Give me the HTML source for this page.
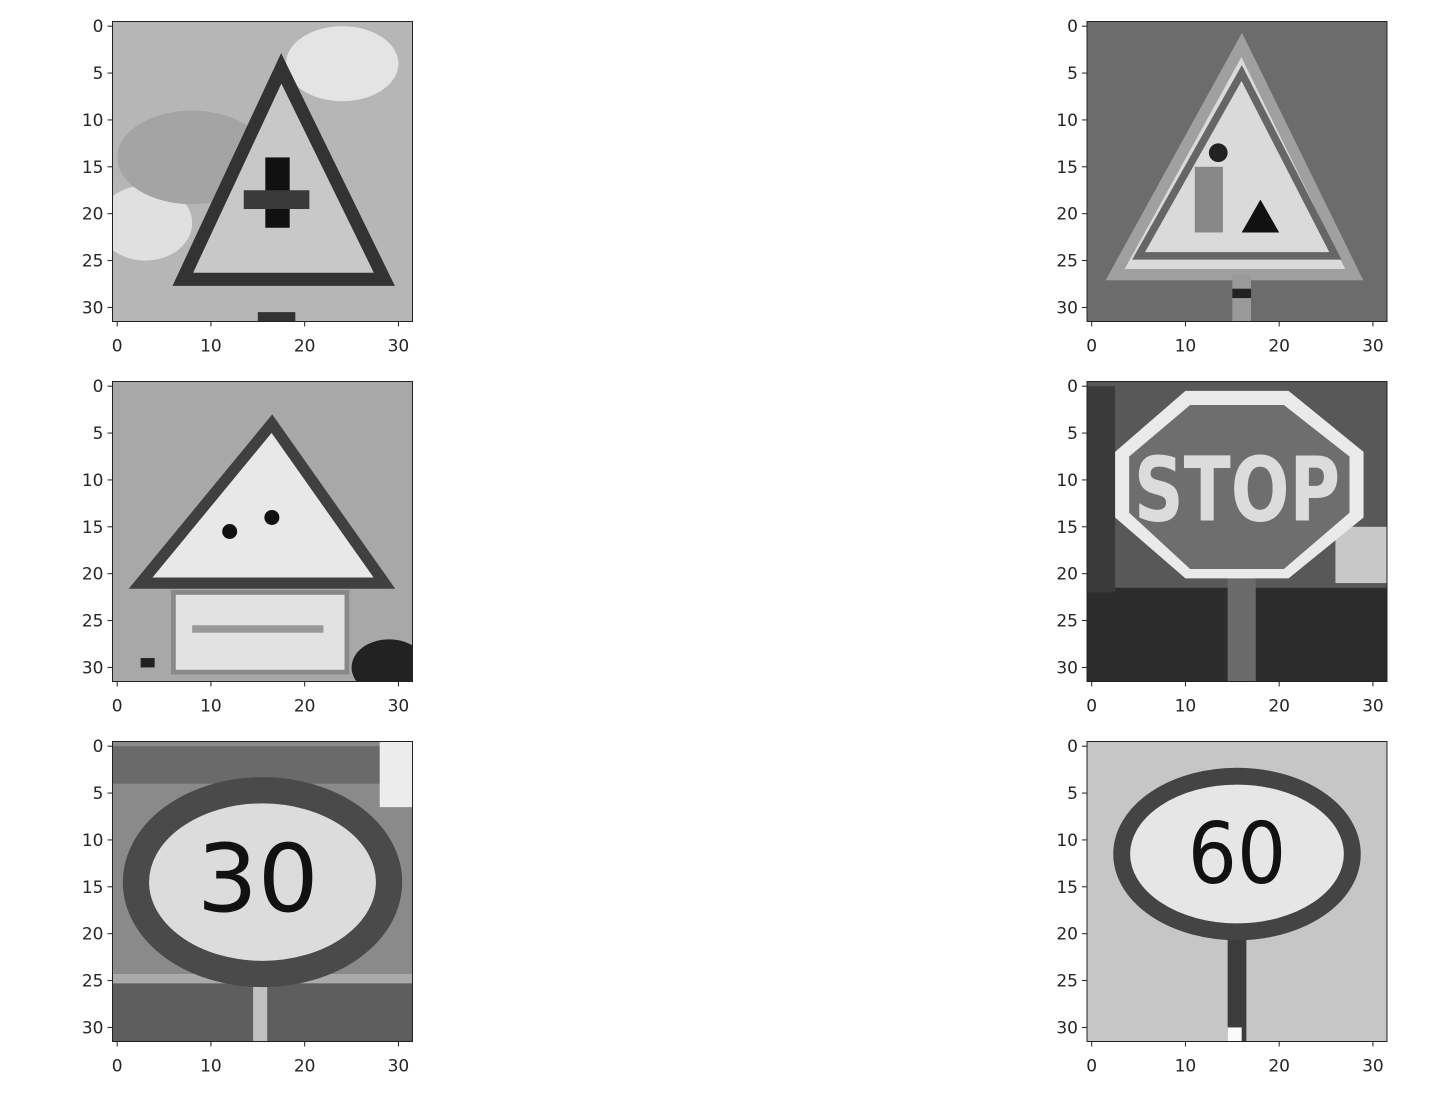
<!DOCTYPE html>
<html><head><meta charset="utf-8"><style>
html,body{margin:0;padding:0;background:#fff;}
svg{display:block;font-family:"DejaVu Sans","Liberation Sans",sans-serif;}
</style></head><body>
<svg id="fig" width="1442" height="1100" viewBox="0 0 1442 1100"></svg>
<script>
const panelLefts = [112.5, 1087];
const panelTops = [21.5, 381.5, 741.5];
const xTicks = [0, 10, 20, 30];
const yTicks = [0, 5, 10, 15, 20, 25, 30];
const imgSize = 32;
const panelNames = ['warning-crossroad-sign','warning-roadwork-sign','warning-children-sign','stop-sign','speed-30-sign','speed-60-sign'];
const bgGrays = ['#b6b6b6','#6c6c6c','#a8a8a8','#585858','#8a8a8a','#c6c6c6'];
const NS='http://www.w3.org/2000/svg';
const fig=document.getElementById('fig');
const S=300/imgSize;
function mk(tag,attrs,parent){const e=document.createElementNS(NS,tag);for(const k in attrs)e.setAttribute(k,attrs[k]);(parent||fig).appendChild(e);return e;}
function draw(i,L,T){
  const X=u=>L+(u+0.5)*S, Y=v=>T+(v+0.5)*S, D=d=>d*S;
  const g=mk('g',{'clip-path':'url(#c'+i+')'});
  
  
  const cp=mk('clipPath',{id:'c'+i});mk('rect',{x:L,y:T,width:300,height:300},cp);
  mk('rect',{x:L,y:T,width:300,height:300,fill:bgGrays[i]},g);
  const pts=a=>a.map(p=>X(p[0])+','+Y(p[1])).join(' ');
  if(i===0){
    mk('ellipse',{cx:X(24),cy:Y(4),rx:D(6),ry:D(4),fill:'#e4e4e4'},g);
    mk('ellipse',{cx:X(3),cy:Y(21),rx:D(5),ry:D(4),fill:'#e0e0e0'},g);
    mk('ellipse',{cx:X(8),cy:Y(14),rx:D(8),ry:D(5),fill:'#a4a4a4'},g);
    mk('polygon',{points:pts([[17.5,4.5],[7,27],[28.5,27]]),fill:'#c8c8c8',stroke:'#333',"stroke-width":D(1.4)},g);
    mk('rect',{x:X(15.8),y:Y(14),width:D(2.6),height:D(7.5),fill:'#111'},g);
    mk('rect',{x:X(13.5),y:Y(17.5),width:D(7),height:D(2),fill:'#3a3a3a'},g);
    mk('rect',{x:X(15),y:Y(30.5),width:D(4),height:D(1.5),fill:'#333'},g);
  } else if(i===1){
    mk('polygon',{points:pts([[16,2],[2.5,26.5],[28,26.5]]),fill:'#dadada',stroke:'#a0a0a0',"stroke-width":D(1.2)},g);
    mk('polygon',{points:pts([[16,5],[5,24.5],[26,24.5]]),fill:'none',stroke:'#666',"stroke-width":D(0.8)},g);
    mk('circle',{cx:X(13.5),cy:Y(13.5),r:D(1),fill:'#222'},g);
    mk('rect',{x:X(11),y:Y(15),width:D(3),height:D(7),fill:'#888'},g);
    mk('polygon',{points:pts([[16,22],[18,18.5],[20,22]]),fill:'#111'},g);
    mk('rect',{x:X(15),y:Y(26.5),width:D(2),height:D(5),fill:'#999'},g);
    mk('rect',{x:X(15),y:Y(28),width:D(2),height:D(1),fill:'#222'},g);
  } else if(i===2){
    mk('polygon',{points:pts([[16.5,4],[2.5,21],[28.5,21]]),fill:'#e8e8e8',stroke:'#404040',"stroke-width":D(1.2)},g);
    mk('circle',{cx:X(12),cy:Y(15.5),r:D(0.8),fill:'#111'},g);
    mk('circle',{cx:X(16.5),cy:Y(14),r:D(0.8),fill:'#111'},g);
    mk('rect',{x:X(6),y:Y(22),width:D(18.5),height:D(8.5),fill:'#e2e2e2',stroke:'#888',"stroke-width":D(0.5)},g);
    mk('rect',{x:X(8),y:Y(25.5),width:D(14),height:D(0.8),fill:'#999'},g);
    mk('ellipse',{cx:X(29),cy:Y(30),rx:D(4),ry:D(3),fill:'#222'},g);
    mk('rect',{x:X(2.5),y:Y(29),width:D(1.5),height:D(1),fill:'#222'},g);
  } else if(i===3){
    mk('rect',{x:L,y:Y(21.5),width:300,height:D(11),fill:'#2c2c2c'},g);
    mk('rect',{x:L,y:Y(0),width:D(3),height:D(22),fill:'#3a3a3a'},g);
    mk('rect',{x:X(26),y:Y(15),width:D(6),height:D(6),fill:'#c8c8c8'},g);
    mk('rect',{x:X(14.5),y:Y(20),width:D(3),height:D(12),fill:'#6a6a6a'},g);
    const o=[[10,0.5],[21,0.5],[29,7],[29,14],[21,20.5],[10,20.5],[2.5,14],[2.5,7]];
    mk('polygon',{points:pts(o),fill:'#eaeaea'},g);
    const o2=[[10.5,2],[20.5,2],[27.5,7.5],[27.5,13.5],[20.5,19.5],[10.5,19.5],[4,13.5],[4,7.5]];
    mk('polygon',{points:pts(o2),fill:'#6e6e6e'},g);
    const t=mk('text',{x:X(15.5),y:Y(14.3),'text-anchor':'middle','font-size':D(9.5),'font-weight':'bold',fill:'#dcdcdc','font-family':'"DejaVu Sans Condensed","Liberation Sans Narrow","Liberation Sans",sans-serif','textLength':D(22),'lengthAdjust':'spacingAndGlyphs'},g);
    t.textContent='STOP';
  } else if(i===4){
    mk('rect',{x:L,y:Y(25),width:300,height:D(7),fill:'#5e5e5e'},g);
    mk('rect',{x:L,y:Y(24.3),width:300,height:D(1),fill:'#aaa'},g);
    mk('rect',{x:L,y:Y(0),width:300,height:D(4),fill:'#6a6a6a'},g);
    mk('rect',{x:X(28),y:Y(-0.5),width:D(4),height:D(7),fill:'#ececec'},g);
    mk('rect',{x:X(14.5),y:Y(25),width:D(1.5),height:D(7),fill:'#c0c0c0'},g);
    mk('ellipse',{cx:X(15.5),cy:Y(14.5),rx:D(13.5),ry:D(9.8),fill:'#dcdcdc',stroke:'#4a4a4a',"stroke-width":D(2.8)},g);
    const t=mk('text',{x:X(15),y:Y(17.6),'text-anchor':'middle','font-size':D(10),fill:'#111','textLength':D(13),'lengthAdjust':'spacingAndGlyphs'},g);
    t.textContent='30';
  } else {
    mk('rect',{x:X(14.5),y:Y(20),width:D(2),height:D(12),fill:'#3c3c3c'},g);
    mk('rect',{x:X(14.5),y:Y(30),width:D(1.5),height:D(1.5),fill:'#fafafa'},g);
    mk('ellipse',{cx:X(15.5),cy:Y(11.5),rx:D(12.3),ry:D(8.3),fill:'#e6e6e6',stroke:'#444',"stroke-width":D(1.8)},g);
    const t=mk('text',{x:X(15.5),y:Y(14.6),'text-anchor':'middle','font-size':D(9),fill:'#111','textLength':D(10.5),'lengthAdjust':'spacingAndGlyphs'},g);
    t.textContent='60';
  }
  const frame=mk('rect',{x:L,y:T,width:300,height:300,fill:'none',stroke:'#222','stroke-width':1});
  
  
  xTicks.forEach(v=>{
    mk('line',{x1:X(v),x2:X(v),y1:T+300,y2:T+305,stroke:'#222'});
    const t=mk('text',{x:X(v),y:T+330,'text-anchor':'middle','font-size':17,fill:'#262626'});
    
    
    t.textContent=v;
  });
  yTicks.forEach(v=>{
    mk('line',{x1:L-5,x2:L,y1:Y(v),y2:Y(v),stroke:'#222'});
    const t=mk('text',{x:L-9,y:Y(v)+6,'text-anchor':'end','font-size':17,fill:'#262626'});
    
    
    t.textContent=v;
  });
}
let k=0;
panelTops.forEach(T=>panelLefts.forEach(L=>{draw(k,L,T);k++;}));
</script>
</body></html>
